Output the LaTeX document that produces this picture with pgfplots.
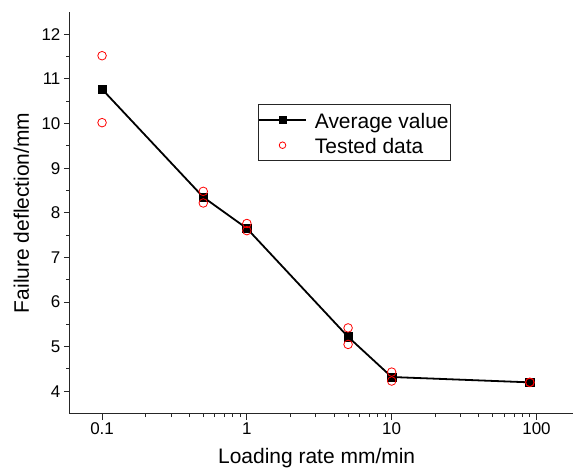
\documentclass[border=0pt]{standalone}
\usepackage{fontspec}
\setmainfont{Liberation Sans}
\usepackage{pgfplots}
\pgfplotsset{compat=1.18}
\pgfplotsset{
  avglegend/.style={legend image code/.code={\draw[##1, line width=1.8pt] (0pt,0pt) -- (47pt,0pt); \path[##1, mark size=3.6pt, line width=0.5pt] plot coordinates {(23.5pt,0pt)};}},
  dotlegend/.style={legend image code/.code={\draw[mark repeat=2, mark phase=2, ##1, mark size=3.3pt, line width=0.8pt] plot coordinates {(0pt,0pt) (23.5pt,0pt) (47pt,0pt)};}},
}
\begin{document}
\begin{tikzpicture}
\begin{axis}[
  scale only axis,
  width=504pt, height=402pt,
  xmode=log,
  xmin=0.06, xmax=180,
  ymin=3.5, ymax=12.5,
  axis lines*=left,
  axis line style={line width=1.1pt, black!85},
  tick align=outside,
  tick style={line width=1pt, black!85},
  major tick length=6pt,
  minor tick length=3.5pt,
  xtick={0.1,1,10,100},
  xticklabels={0.1,1,10,100},
  ytick={4,5,6,7,8,9,10,11,12},
  minor y tick num=1,
  /pgf/number format/assume math mode=true,
  ticklabel style={font=\fontsize{17}{20}\selectfont},
  xlabel={Loading rate mm/min},
  ylabel={Failure deflection/mm},
  label style={font=\fontsize{21}{24}\selectfont},
  xlabel style={at={(axis description cs:0.49,-0.1244)}, anchor=base},
  ylabel style={at={(axis description cs:-0.074,0.5)}, anchor=south},
  legend style={at={(0.373,0.771)}, anchor=north west, draw=black!85, line width=0.8pt,
    font=\fontsize{21}{24}\selectfont, inner xsep=0pt, inner ysep=2.5pt, row sep=0pt,
    nodes={inner xsep=2pt, inner ysep=3.3pt, text height=18pt, text depth=1pt},
    /tikz/every odd column/.append style={column sep=6pt}},
  legend cell align=left,
]
\addplot[black, line width=1.8pt, mark=square*, mark size=4.2pt, mark options={solid, line width=0.5pt}, avglegend]
  coordinates {(0.1,10.77) (0.5,8.35) (1,7.65) (5,5.22) (10,4.32) (90,4.20)};
\addlegendentry{Average value}
\addplot[only marks, red, mark=o, mark size=4.3pt, mark options={line width=0.8pt}, dotlegend]
  coordinates {(0.1,11.52) (0.1,10.02) (0.5,8.48) (0.5,8.22) (1,7.76) (1,7.60)
    (5,5.42) (5,5.05) (10,4.43) (10,4.23) (90,4.20) (90,4.20)};
\addlegendentry{Tested data}
\end{axis}
\path (current axis.south west) ++(-70pt,-55pt) coordinate (bbA);
\path (current axis.north east) ++(0pt,12pt) coordinate (bbB);
\path (bbA) rectangle (bbB);
\end{tikzpicture}
\end{document}
